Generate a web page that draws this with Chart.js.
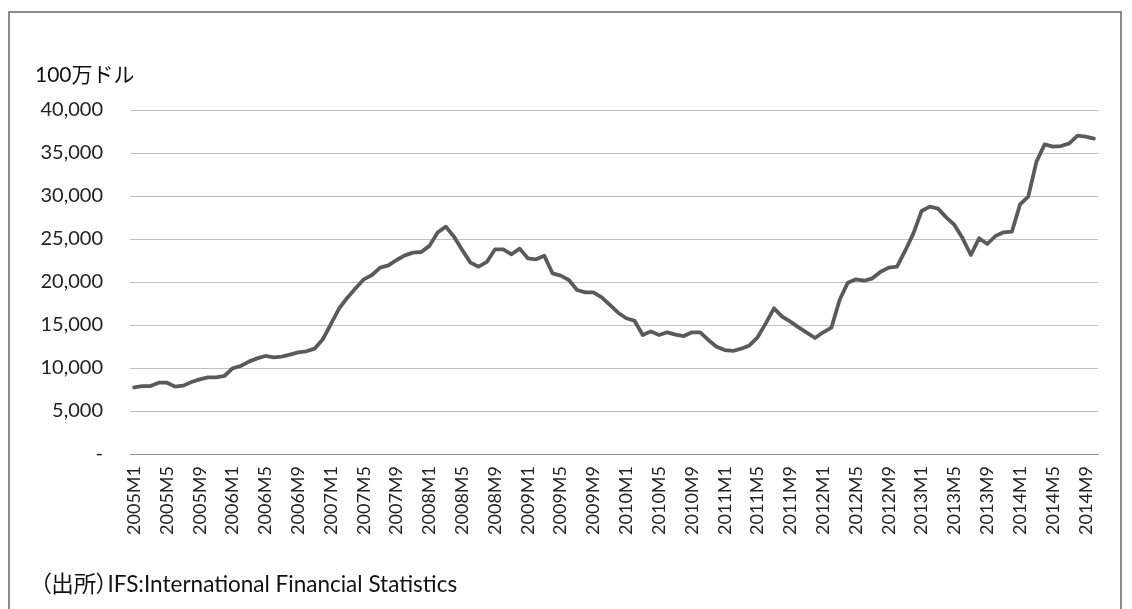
<!DOCTYPE html>
<html>
<head>
<meta charset="utf-8">
<script src="https://cdn.jsdelivr.net/npm/chart.js@4.4.1/dist/chart.umd.min.js"></script>
<style>
  html, body { margin: 0; padding: 0; background: #ffffff; }
  #wrap { position: relative; width: 1132px; height: 609px; overflow: hidden; }
  #frame { position: absolute; left: 8px; top: 11px; width: 1114px; height: 620px; border: 2px solid #8a8a8a; box-sizing: border-box; }
  #unit { position: absolute; left: 35px; top: 58px; font: 21px "Lato", "Noto Sans CJK JP", sans-serif; color: #111; white-space: nowrap; }
  #source { position: absolute; left: 40px; top: 566px; font: 22.5px "Lato", "Noto Sans CJK JP", sans-serif; color: #111; white-space: nowrap; font-feature-settings: "palt"; }
  canvas { position: absolute; left: 0; top: 0; }
</style>
</head>
<body>
<div id="wrap">
  <div id="frame"></div>
  <canvas id="c" width="1132" height="609"></canvas>
  <div id="unit">100万ドル</div>
  <div id="source">（出所）IFS:International Financial Statistics</div>
</div>
<script>
const categories = [
  "2005M1","2005M2","2005M3","2005M4","2005M5","2005M6","2005M7","2005M8","2005M9","2005M10","2005M11","2005M12",
  "2006M1","2006M2","2006M3","2006M4","2006M5","2006M6","2006M7","2006M8","2006M9","2006M10","2006M11","2006M12",
  "2007M1","2007M2","2007M3","2007M4","2007M5","2007M6","2007M7","2007M8","2007M9","2007M10","2007M11","2007M12",
  "2008M1","2008M2","2008M3","2008M4","2008M5","2008M6","2008M7","2008M8","2008M9","2008M10","2008M11","2008M12",
  "2009M1","2009M2","2009M3","2009M4","2009M5","2009M6","2009M7","2009M8","2009M9","2009M10","2009M11","2009M12",
  "2010M1","2010M2","2010M3","2010M4","2010M5","2010M6","2010M7","2010M8","2010M9","2010M10","2010M11","2010M12",
  "2011M1","2011M2","2011M3","2011M4","2011M5","2011M6","2011M7","2011M8","2011M9","2011M10","2011M11","2011M12",
  "2012M1","2012M2","2012M3","2012M4","2012M5","2012M6","2012M7","2012M8","2012M9","2012M10","2012M11","2012M12",
  "2013M1","2013M2","2013M3","2013M4","2013M5","2013M6","2013M7","2013M8","2013M9","2013M10","2013M11","2013M12",
  "2014M1","2014M2","2014M3","2014M4","2014M5","2014M6","2014M7","2014M8","2014M9","2014M10"
];

const reserves = [
  7750, 7900, 7900, 8290, 8290, 7830, 7950, 8370, 8680, 8910, 8910, 9070,
  9960, 10230, 10740, 11120, 11400, 11240, 11320, 11550, 11820, 11940, 12250, 13330,
  15120, 16940, 18180, 19260, 20310, 20810, 21670, 21940, 22560, 23100, 23410, 23490,
  24200, 25760, 26440, 25270, 23720, 22250, 21780, 22330, 23800, 23800, 23220, 23880,
  22750, 22640, 23060, 21010, 20740, 20230, 19070, 18800, 18800, 18220, 17330, 16430,
  15780, 15500, 13840, 14260, 13840, 14150, 13880, 13720, 14150, 14150, 13260, 12480,
  12090, 11980, 12250, 12620, 13570, 15190, 16940, 15970, 15390, 14730, 14110, 13490,
  14150, 14690, 17910, 19920, 20310, 20150, 20430, 21200, 21670, 21780, 23640, 25660,
  28260, 28760, 28530, 27520, 26630, 25080, 23140, 25080, 24420, 25350, 25780, 25850,
  29030, 29920, 33990, 36010, 35740, 35810, 36120, 37010, 36900, 36670
];

const yTickStep = 5000;
const yMax = 40000;
const labelEvery = 4;

const fontFamily = '"Lato", "Noto Sans CJK JP", sans-serif';

new Chart(document.getElementById('c').getContext('2d'), {
  type: 'line',
  data: {
    labels: categories,
    datasets: [{
      data: reserves,
      borderColor: '#5a5a5a',
      borderWidth: 3.8,
      pointRadius: 0,
      tension: 0,
      fill: false,
      borderJoinStyle: 'round',
      borderCapStyle: 'round'
    }]
  },
  options: {
    responsive: false,
    animation: false,
    devicePixelRatio: 1,
    layout: { padding: { left: 0, top: 110, right: 34, bottom: 55 } },
    plugins: { legend: { display: false }, tooltip: { enabled: false }, title: { display: false } },
    scales: {
      x: {
        type: 'category',
        offset: true,
        grid: { display: false, drawTicks: false },
        border: { display: true, color: '#8c8c8c', width: 1 },
        ticks: {
          autoSkip: false,
          minRotation: 90,
          maxRotation: 90,
          padding: 12,
          color: '#222',
          font: { family: fontFamily, size: 18 },
          callback: function(value, index) { return index % labelEvery === 0 ? categories[index] : ''; }
        },
        afterFit: function(scale) { scale.height = 100; }
      },
      y: {
        min: 0,
        max: yMax,
        grid: {
          drawTicks: false,
          color: function(ctx) { return ctx.tick && ctx.tick.value === 0 ? '#8c8c8c' : '#c0c0c0'; },
          lineWidth: 1
        },
        border: { display: false },
        ticks: {
          stepSize: yTickStep,
          padding: 27,
          color: '#222',
          font: { family: fontFamily, size: 20 },
          callback: function(v) { return v === 0 ? '-' : v.toLocaleString('en-US'); }
        },
        afterFit: function(scale) { scale.width = 130; }
      }
    }
  }
});
</script>
</body>
</html>
